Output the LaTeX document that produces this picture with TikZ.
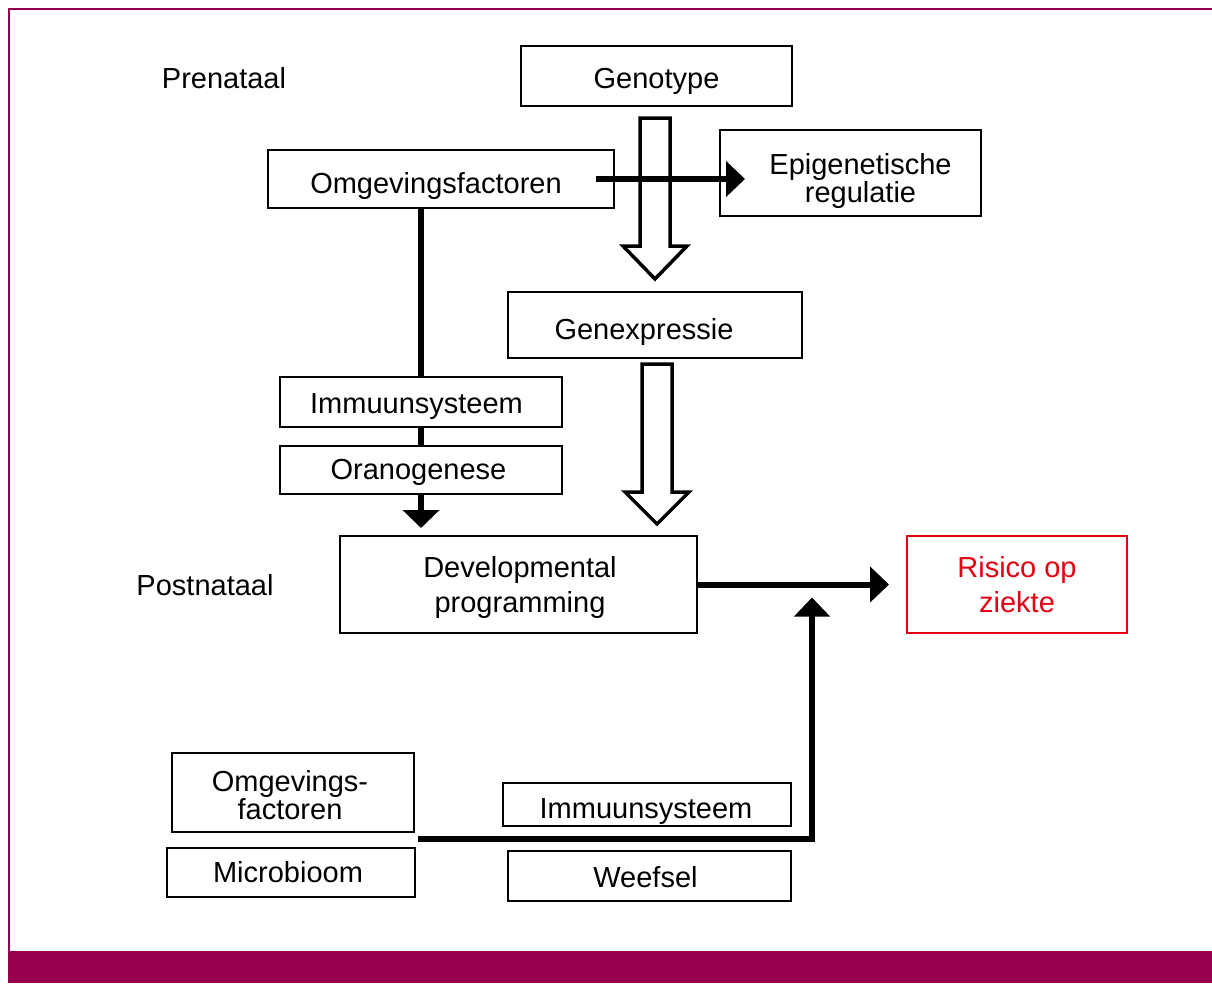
\documentclass[tikz,border=0pt]{standalone}
\usepackage{fontspec}
\setmainfont{Liberation Sans}
\usetikzlibrary{arrows.meta,calc}
\definecolor{framecol}{RGB}{150,0,78}
\definecolor{riskred}{RGB}{228,0,18}
\begin{document}
\begin{tikzpicture}[x=1pt,y=-1pt,
  box/.style={draw, line width=2pt, fill=white, inner sep=0pt},
  txt/.style={inner sep=0pt, align=center, font=\fontsize{29}{35}\selectfont},
  tight/.style={font=\fontsize{29}{28}\selectfont},
  conn/.style={line width=6pt, -{Triangle[length=19pt,width=35pt]}},
  plainline/.style={line width=6pt},
  hollow/.style={draw, line width=3.5pt, fill=white, line join=miter}]
\useasboundingbox (0,0) rectangle (1212,983);
\fill[framecol] (8,951) rectangle (1212,983);
\draw[framecol, line width=2pt] (9,951) -- (9,9) -- (1212,9);

% boxes
\node[box, minimum width=271pt, minimum height=60pt] (geno) at (656.5,76) {};
\node[box, minimum width=346pt, minimum height=58pt] (omg) at (441,179) {};
\node[box, minimum width=261pt, minimum height=86pt] (epi) at (850.5,173) {};
\node[box, minimum width=294pt, minimum height=66pt] (genex) at (655,325) {};
\node[box, minimum width=282pt, minimum height=50pt] (imm1) at (421,402) {};
\node[box, minimum width=282pt, minimum height=48pt] (oran) at (421,470) {};
\node[box, minimum width=357pt, minimum height=97pt] (dev) at (518.5,584.5) {};
\node[box, draw=riskred, minimum width=220pt, minimum height=97pt] (risk) at (1017,584.5) {};
\node[box, minimum width=242pt, minimum height=79pt] (omg2) at (293,792.5) {};
\node[box, minimum width=248pt, minimum height=49pt] (micro) at (291,872.5) {};
\node[box, minimum width=288pt, minimum height=43pt] (imm2) at (647,804.5) {};
\node[box, minimum width=283pt, minimum height=50pt] (weef) at (649.5,876) {};

% texts
\node[txt] (geno-t) at ($(geno)+(0,5)$) {Genotype};
\node[txt] (omg-t) at ($(omg)+(-5,7)$) {Omgevingsfactoren};
\node[txt, tight] (epi-t) at ($(epi)+(10,8)$) {Epigenetische\\regulatie};
\node[txt] (genex-t) at ($(genex)+(-11,7)$) {Genexpressie};
\node[txt] (imm1-t) at ($(imm1)+(-4.5,5)$) {Immuunsysteem};
\node[txt] (oran-t) at ($(oran)+(-2.5,2)$) {Oranogenese};
\node[txt] (dev-t) at ($(dev)+(1.5,3)$) {Developmental\\programming};
\node[txt, text=riskred] (risk-t) at (risk) {Risico op\\ziekte};
\node[txt, tight] (omg2-t) at ($(omg2)+(-3,3)$) {Omgevings-\\factoren};
\node[txt] (micro-t) at ($(micro)+(-3,0)$) {Microbioom};
\node[txt] (imm2-t) at ($(imm2)+(-1,7)$) {Immuunsysteem};
\node[txt] (weef-t) at ($(weef)+(-4,1)$) {Weefsel};
\node[txt] (pre) at (224,78) {Prenataal};
\node[txt] (post) at (205,585) {Postnataal};

% hollow arrow 1: Genotype -> Genexpressie
\coordinate (h1t) at ($(geno.south)+(-1.5,11)$);
\coordinate (h1b) at ($(genex.north)+(0,-12)$);
\draw[hollow] ($(h1t)+(-15,0)$) -- ($(h1t)+(15,0)$) -- ($(h1b)+(15,-33)$) -- ($(h1b)+(32,-33)$)
  -- (h1b) -- ($(h1b)+(-32,-33)$) -- ($(h1b)+(-15,-33)$) -- cycle;

% hollow arrow 2: Genexpressie -> Developmental programming
\coordinate (h2t) at ($(genex.south)+(2,5)$);
\coordinate (h2b) at ($(h2t |- dev.north)+(0,-11)$);
\draw[hollow] ($(h2t)+(-15,0)$) -- ($(h2t)+(15,0)$) -- ($(h2b)+(15,-32)$) -- ($(h2b)+(32,-32)$)
  -- (h2b) -- ($(h2b)+(-32,-32)$) -- ($(h2b)+(-15,-32)$) -- cycle;

% Omgevingsfactoren -> Epigenetische regulatie
\draw[conn] ($(omg.east)+(-19,0)$) -- ($(epi.west)+(26,6)$);

% Omgevingsfactoren -> Immuunsysteem -> Oranogenese -> Developmental programming
\draw[plainline] ($(omg.south)+(-20,0)$) -- (imm1.north);
\draw[plainline] (imm1.south) -- (oran.north);
\draw[line width=6pt, -{Triangle[length=18pt,width=36pt]}, shorten >=7pt] (oran.south) -- (oran.south |- dev.north);

% Developmental programming -> Risico op ziekte
\draw[conn] (dev.east) -- ($(risk.west)+(-17,0)$);

% Postnatal factors -> arrow
\coordinate (c1) at ($(omg2.south east)+(3,5.5)$);
\draw[conn, line join=miter] (c1) -| ($(dev.east)+(114,13)$);
\end{tikzpicture}
\end{document}
